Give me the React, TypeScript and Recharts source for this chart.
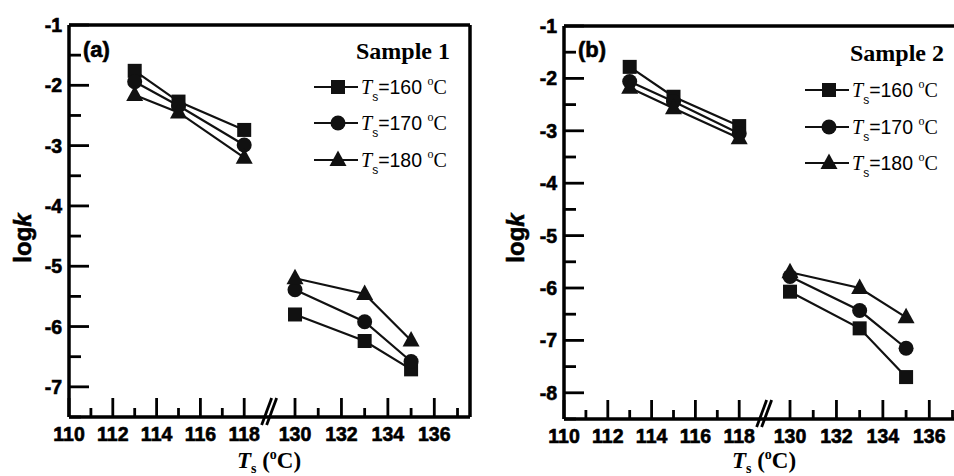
import { LineChart, Line, XAxis, YAxis, Legend, ReferenceLine } from 'recharts'

// crystallization temperatures (°C), same for both samples
const temps = [113, 115, 118, 130, 133, 135]

// log k per Ts, sample 1
const sample1Ts160 = [-1.76, -2.27, -2.74, -5.8, -6.24, -6.71]
const sample1Ts170 = [-1.94, -2.34, -2.99, -5.39, -5.92, -6.58]
const sample1Ts180 = [-2.16, -2.45, -3.2, -5.2, -5.46, -6.23]

// log k per Ts, sample 2
const sample2Ts160 = [-1.78, -2.35, -2.91, -6.07, -6.77, -7.7]
const sample2Ts170 = [-2.06, -2.44, -3.05, -5.78, -6.43, -7.15]
const sample2Ts180 = [-2.18, -2.57, -3.14, -5.7, -6.0, -6.56]

const seriesNames = ['160', '170', '180']

const xMajorTicks = [110, 112, 114, 116, 118, 130, 132, 134, 136]
const xMinorTicks = [111, 113, 115, 117, 131, 133, 135, 137]

const yMajor1 = [-1, -2, -3, -4, -5, -6, -7]
const yMinor1 = [-1.5, -2.5, -3.5, -4.5, -5.5, -6.5, -7.5]
const yMajor2 = [-1, -2, -3, -4, -5, -6, -7, -8]
const yMinor2 = [-1.5, -2.5, -3.5, -4.5, -5.5, -6.5, -7.5, -8.5]

// broken x axis: 110-119 then 130-137 squeezed next to it
const BREAK_AT = 119.13
const HIGH_START = 120.32
const HIGH_STRETCH = 1.06
const X_MAX = 128.31
const toAxis = (t: number) => (t < 125 ? t : HIGH_START + (t - 130) * HIGH_STRETCH)
const fromAxis = (v: number) => (v < 120 ? v : 130 + (v - HIGH_START) / HIGH_STRETCH)

const INK = '#111'
const SANS = '"Liberation Sans", Arial, Helvetica, sans-serif'
const SERIF = '"Liberation Serif", "Times New Roman", Times, serif'
// scanned figure has heavy glyphs, a hairline stroke fattens bold text a bit
const HEAVY = { stroke: '#000', strokeWidth: 0.6 }

type Row = { x: number; ts160: number | null; ts170: number | null; ts180: number | null }

function buildRows(s160: number[], s170: number[], s180: number[]): Row[] {
  const rows: Row[] = temps.map((t, i) => ({ x: toAxis(t), ts160: s160[i], ts170: s170[i], ts180: s180[i] }))
  rows.splice(3, 0, { x: BREAK_AT, ts160: null, ts170: null, ts180: null })
  return rows
}

const xTickPositions = [...xMajorTicks, ...xMinorTicks].map(toAxis).concat(BREAK_AT).sort((a, b) => a - b)

function XTick(props: any) {
  const { x, y, payload } = props
  const v = payload.value as number
  if (Math.abs(v - BREAK_AT) < 0.01) {
    return (
      <g>
        <line x1={x - 7.3} y1={y + 8} x2={x + 2.7} y2={y - 19} stroke="#000" strokeWidth={2.8} />
        <line x1={x - 2.3} y1={y + 8} x2={x + 7.7} y2={y - 19} stroke="#000" strokeWidth={2.8} />
      </g>
    )
  }
  const t = Math.round(fromAxis(v))
  const major = xMajorTicks.includes(t)
  return (
    <g>
      <line x1={x} y1={y} x2={x} y2={y - (major ? 19 : 9)} stroke="#000" strokeWidth={2.8} />
      {major && (
        <text x={x} y={y + 24} textAnchor="middle" fontFamily={SANS} fontWeight="bold" fontSize={19.5} fill="#000" {...HEAVY}>
          {t}
        </text>
      )}
    </g>
  )
}

function makeYTick(majors: number[]) {
  return (props: any) => {
    const { x, y, payload } = props
    const v = payload.value as number
    const major = majors.includes(v)
    return (
      <g>
        <line x1={x} y1={y} x2={x + (major ? 20 : 12)} y2={y} stroke="#000" strokeWidth={2.8} />
        {major && (
          <text x={x - 7} y={y + 7} textAnchor="end" fontFamily={SANS} fontWeight="bold" fontSize={19.5} fill="#000" {...HEAVY}>
            {v}
          </text>
        )}
      </g>
    )
  }
}

type Shape = 'square' | 'circle' | 'triangle'
const shapes: Shape[] = ['square', 'circle', 'triangle']

function Marker({ cx, cy, shape }: { cx: number; cy: number; shape: Shape }) {
  if (shape === 'square') return <rect x={cx - 7} y={cy - 7} width={14} height={14} fill={INK} />
  if (shape === 'circle') return <circle cx={cx} cy={cy} r={7.5} fill={INK} />
  return <polygon points={`${cx},${cy - 9.5} ${cx - 8.5},${cy + 6} ${cx + 8.5},${cy + 6}`} fill={INK} />
}

const dotFor = (shape: Shape) => (p: any) => {
  if (p.cx == null || p.cy == null || p.value == null) return <g key={`${shape}-${p.index}`} />
  return (
    <g key={`${shape}-${p.index}`}>
      <Marker cx={p.cx} cy={p.cy} shape={shape} />
    </g>
  )
}

interface OverlayProps {
  tag: string
  sample: string
  tagX: number
  sampleRight: number
  sampleY: number
  legendX: number
  legendRows: number[]
  yTitleX: number
  xTitleX: number
}

function Overlay(o: OverlayProps & { w: number; h: number }) {
  return (
    <svg width={o.w} height={o.h} style={{ display: 'block' }}>
      <text x={o.tagX} y={57} fontFamily={SANS} fontWeight="bold" fontSize={22} fill="#000" {...HEAVY}>
        {o.tag}
      </text>
      <text x={o.sampleRight} y={o.sampleY} textAnchor="end" fontFamily={SERIF} fontWeight="bold" fontSize={24} fill="#000">
        {o.sample}
      </text>
      {seriesNames.map((name, i) => {
        const ly = o.legendRows[i]
        return (
          <g key={name}>
            <line x1={o.legendX} y1={ly} x2={o.legendX + 44} y2={ly} stroke={INK} strokeWidth={2} />
            <Marker cx={o.legendX + 24} cy={ly} shape={shapes[i]} />
            <text x={o.legendX + 47} y={ly + 6.5} fill="#000" fontSize={19.5}>
              <tspan fontFamily={SERIF} fontStyle="italic" fontSize={20}>T</tspan>
              <tspan fontFamily={SANS} fontSize={12} dy={7}>s</tspan>
              <tspan fontFamily={SANS} dy={-7}>{`=${name} `}</tspan>
              <tspan fontFamily={SERIF} fontSize={12} dy={-9}>o</tspan>
              <tspan fontFamily={SERIF} fontSize={20} dy={9}>C</tspan>
            </text>
          </g>
        )
      })}
      <text
        transform={`translate(${o.yTitleX + 8}, 238) rotate(-90)`}
        textAnchor="middle"
        fontFamily={SANS}
        fontWeight="bold"
        fontSize={24}
        fill="#000"
        {...HEAVY}
      >
        log<tspan fontStyle="italic">k</tspan>
      </text>
      <text x={o.xTitleX} y={468} textAnchor="middle" fontFamily={SERIF} fontWeight="bold" fontSize={23} fill="#000">
        <tspan fontStyle="italic">T</tspan>
        <tspan fontSize={14} dy={5}>s</tspan>
        <tspan dy={-5}> (</tspan>
        <tspan fontSize={14} dy={-9}>o</tspan>
        <tspan dy={9}>C)</tspan>
      </text>
    </svg>
  )
}

interface PanelProps {
  left: number
  width: number
  marginTop: number
  marginRight: number
  yAxisWidth: number
  xAxisHeight: number
  yMin: number
  yMajor: number[]
  yMinor: number[]
  rows: Row[]
  overlay: OverlayProps
}

function Panel(p: PanelProps) {
  const H = 476
  return (
    <div style={{ position: 'absolute', left: p.left, top: 0 }}>
      <LineChart
        width={p.width}
        height={H}
        data={p.rows}
        margin={{ top: p.marginTop, right: p.marginRight, bottom: 0, left: 0 }}
      >
        <XAxis
          dataKey="x"
          type="number"
          domain={[110, X_MAX]}
          allowDataOverflow
          ticks={xTickPositions}
          interval={0}
          tick={XTick}
          tickLine={false}
          tickSize={0}
          tickMargin={0}
          height={p.xAxisHeight}
          axisLine={{ stroke: '#000', strokeWidth: 3.5 }}
        />
        <YAxis
          type="number"
          domain={[p.yMin, -1]}
          allowDataOverflow
          ticks={[...p.yMajor, ...p.yMinor].sort((a, b) => b - a)}
          interval={0}
          tick={makeYTick(p.yMajor)}
          tickLine={false}
          tickSize={0}
          tickMargin={0}
          width={p.yAxisWidth}
          axisLine={{ stroke: '#000', strokeWidth: 3.5 }}
        />
        <ReferenceLine y={-1} stroke="#000" strokeWidth={3.5} />
        <ReferenceLine x={X_MAX} stroke="#000" strokeWidth={3.5} />
        {(['ts160', 'ts170', 'ts180'] as const).map((key, i) => (
          <Line
            key={key}
            dataKey={key}
            type="linear"
            stroke={INK}
            strokeWidth={2.2}
            dot={dotFor(shapes[i])}
            activeDot={false}
            connectNulls={false}
            isAnimationActive={false}
          />
        ))}
        <Legend
          layout="vertical"
          align="center"
          verticalAlign="middle"
          wrapperStyle={{ left: 0, top: 0, width: p.width, height: H, pointerEvents: 'none' }}
          content={() => <Overlay {...p.overlay} w={p.width} h={H} />}
        />
      </LineChart>
    </div>
  )
}

const rows1 = buildRows(sample1Ts160, sample1Ts170, sample1Ts180)
const rows2 = buildRows(sample2Ts160, sample2Ts170, sample2Ts180)

export default function App() {
  return (
    <div
      style={{
        position: 'fixed',
        left: 0,
        top: 0,
        width: 954,
        height: 476,
        overflow: 'hidden',
        background: '#fff',
      }}
    >
      <Panel
        left={0}
        width={477}
        marginTop={25}
        marginRight={7}
        yAxisWidth={69}
        xAxisHeight={59}
        yMin={-7.5}
        yMajor={yMajor1}
        yMinor={yMinor1}
        rows={rows1}
        overlay={{
          tag: '(a)',
          sample: 'Sample 1',
          tagX: 83,
          sampleRight: 450,
          sampleY: 59,
          legendX: 314,
          legendRows: [87, 123, 160],
          yTitleX: 23,
          xTitleX: 269,
        }}
      />
      <Panel
        left={476}
        width={500}
        marginTop={26}
        marginRight={11}
        yAxisWidth={88}
        xAxisHeight={57}
        yMin={-8.5}
        yMajor={yMajor2}
        yMinor={yMinor2}
        rows={rows2}
        overlay={{
          tag: '(b)',
          sample: 'Sample 2',
          tagX: 102,
          sampleRight: 468,
          sampleY: 61,
          legendX: 329,
          legendRows: [90, 127, 163],
          yTitleX: 40,
          xTitleX: 288,
        }}
      />
    </div>
  )
}
